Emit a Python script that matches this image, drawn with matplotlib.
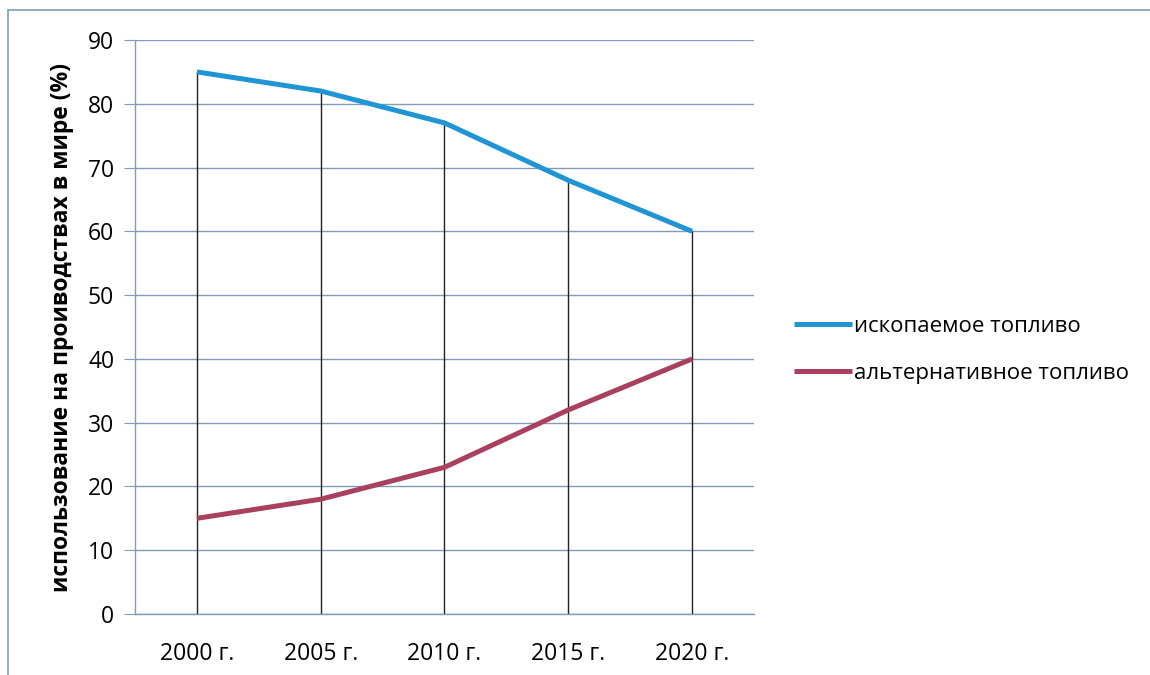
import matplotlib.pyplot as plt
from matplotlib.patches import Rectangle
import numpy as np

# Data
years = ["2000 г.", "2005 г.", "2010 г.", "2015 г.", "2020 г."]
fossil = [85, 82, 77, 68, 60]
alternative = [15, 18, 23, 32, 40]
series_names = ["ископаемое топливо", "альтернативное топливо"]
y_label = "использование на проиводствах в мире (%)"

plt.rcParams["font.family"] = ["Open Sans", "DejaVu Sans"]

grid_color = "#7f9db8"
blue = "#1f95d6"
maroon = "#a8405e"

fig = plt.figure(figsize=(11.5, 6.75), dpi=100)
ax = fig.add_axes([135 / 1150, 1 - 614 / 675, 619 / 1150, 574 / 675])

x = np.arange(len(years))

# drop lines from the upper series down to the axis
ax.vlines(x, 0, fossil, color="#222222", lw=1.0, zorder=2)

ax.plot(x, fossil, color=blue, lw=3.6, solid_capstyle="butt", zorder=3,
        label=series_names[0])
ax.plot(x, alternative, color=maroon, lw=3.6, solid_capstyle="butt", zorder=3,
        label=series_names[1])

ax.set_xlim(-0.5, len(years) - 0.5)
ax.set_ylim(0, 90)
ax.set_yticks(np.arange(0, 91, 10))
ax.set_xticks(x)
ax.set_xticklabels(years)

ax.yaxis.grid(True, color=grid_color, lw=1.0)
ax.set_axisbelow(True)
for side in ["top", "right"]:
    ax.spines[side].set_visible(False)
ax.spines["left"].set_color(grid_color)
ax.spines["bottom"].set_color(grid_color)
ax.spines["left"].set_linewidth(1.0)
ax.spines["bottom"].set_linewidth(1.0)

ax.tick_params(axis="y", length=8, color=grid_color, labelsize=16.5, pad=7)
ax.tick_params(axis="x", length=0, labelsize=16.5, pad=20)

ax.set_ylabel(y_label, fontsize=16.5, fontweight="bold", labelpad=10)

ax.legend(loc="center left", bbox_to_anchor=(774 / 1150, 1 - 350 / 675),
          bbox_transform=fig.transFigure, frameon=False, fontsize=16,
          handlelength=2.6, handletextpad=0.1, labelspacing=1.15)

# thin frame around the chart area
fig.patches.append(Rectangle((8 / 1150, -0.05), 1.2, 1 - 10 / 675 + 0.05,
                             transform=fig.transFigure, fill=False,
                             edgecolor="#7f9fba", lw=1.2))

fig.savefig("out.png", dpi=100)
